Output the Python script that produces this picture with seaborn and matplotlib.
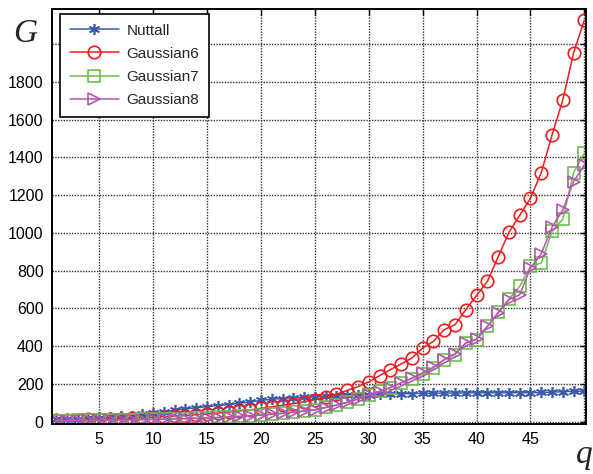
import numpy as np
import pandas as pd
import matplotlib
matplotlib.use("Agg")
import matplotlib.pyplot as plt
import seaborn as sns

# data
q = np.arange(1, 51)

nuttall = [14, 15, 16, 18, 20, 23, 27, 32, 38, 44,
           52, 60, 67, 73, 79, 85, 90, 97, 104, 112,
           118, 122, 126, 128, 131, 134, 136, 138, 140, 143,
           145, 146, 147, 148, 150, 150, 151, 151, 152, 152,
           152, 152, 152, 153, 153, 154, 156, 158, 160, 161]

gaussian6 = [8, 9, 10, 11, 12, 14, 16, 18, 20, 23,
             26, 29, 32, 36, 40, 45, 50, 56, 62, 70,
             78, 86, 95, 105, 116, 128, 145, 165, 185, 210,
             243, 275, 305, 337, 390, 425, 487, 513, 593, 668,
             742, 873, 1002, 1093, 1183, 1319, 1518, 1704, 1954, 2127]

gaussian7 = [5, 5, 6, 6, 7, 8, 9, 10, 11, 12,
             13, 15, 16, 18, 20, 22, 25, 28, 31, 35,
             39, 44, 50, 56, 63, 75, 88, 102, 120, 140,
             160, 180, 205, 228, 250, 284, 328, 354, 416, 434,
             504, 578, 649, 716, 822, 840, 1007, 1072, 1319, 1422]

gaussian8 = [4, 5, 5, 6, 7, 8, 8, 9, 10, 11,
             12, 14, 15, 17, 19, 21, 24, 27, 30, 34,
             38, 43, 49, 55, 62, 74, 87, 101, 119, 139,
             158, 180, 205, 230, 258, 289, 328, 360, 416, 437,
             504, 575, 646, 672, 813, 889, 1030, 1122, 1271, 1360]

names = ['Nuttall', 'Gaussian6', 'Gaussian7', 'Gaussian8']
series = [nuttall, gaussian6, gaussian7, gaussian8]
colors = ['#3a5bab', '#f01c1c', '#6cbf4a', '#b455b4']
markers = [(6, 2, 0), 'o', 's', '>']
msizes = [8, 9, 8, 9]

sns.set_style('white')
plt.rcParams['font.family'] = ['Liberation Sans', 'DejaVu Sans']

fig = plt.figure(figsize=(5.93, 4.74), dpi=100)
ax = fig.add_axes([52 / 593, 1 - 424 / 474, 534 / 593, 414.5 / 474])

for name, vals, c, m, ms in zip(names, series, colors, markers, msizes):
    sns.lineplot(x=q, y=vals, ax=ax, color=c, marker=m, markersize=ms,
                 mfc='none', mec=c, mew=1.2, lw=1.1, label=name)

ax.set_xlim(0.62, 50.15)
ax.set_ylim(-13, 2183)
ax.set_xticks([5, 10, 15, 20, 25, 30, 35, 40, 45, 50])
ax.set_xticklabels(['5', '10', '15', '20', '25', '30', '35', '40', '45', ''])
ax.set_yticks(range(0, 2001, 200))
ax.set_yticklabels([str(v) for v in range(0, 1801, 200)] + [''])
ax.grid(True, color='0.2', linestyle=(0, (1, 1)), lw=1.0)
ax.tick_params(direction='in', length=4, width=1, labelsize=11.5,
               top=True, right=True, colors='black', pad=6)
for s in ax.spines.values():
    s.set_color('black')
    s.set_linewidth(1.4)

leg = ax.legend(loc='upper left', bbox_to_anchor=(0.015, 0.99), borderaxespad=0,
                fontsize=11, handlelength=3.2, labelspacing=0.6, borderpad=0.65,
                handletextpad=0.5, fancybox=False, framealpha=1, edgecolor='black')
leg.get_frame().set_linewidth(1.2)

fig.text(0.042, 0.928, 'G', family='Liberation Serif', style='italic',
         fontsize=24, ha='center', va='center')
fig.text(0.985, 0.04, 'q', family='Liberation Serif', style='italic',
         fontsize=24, ha='center', va='center')

fig.savefig('out.png', dpi=100)
